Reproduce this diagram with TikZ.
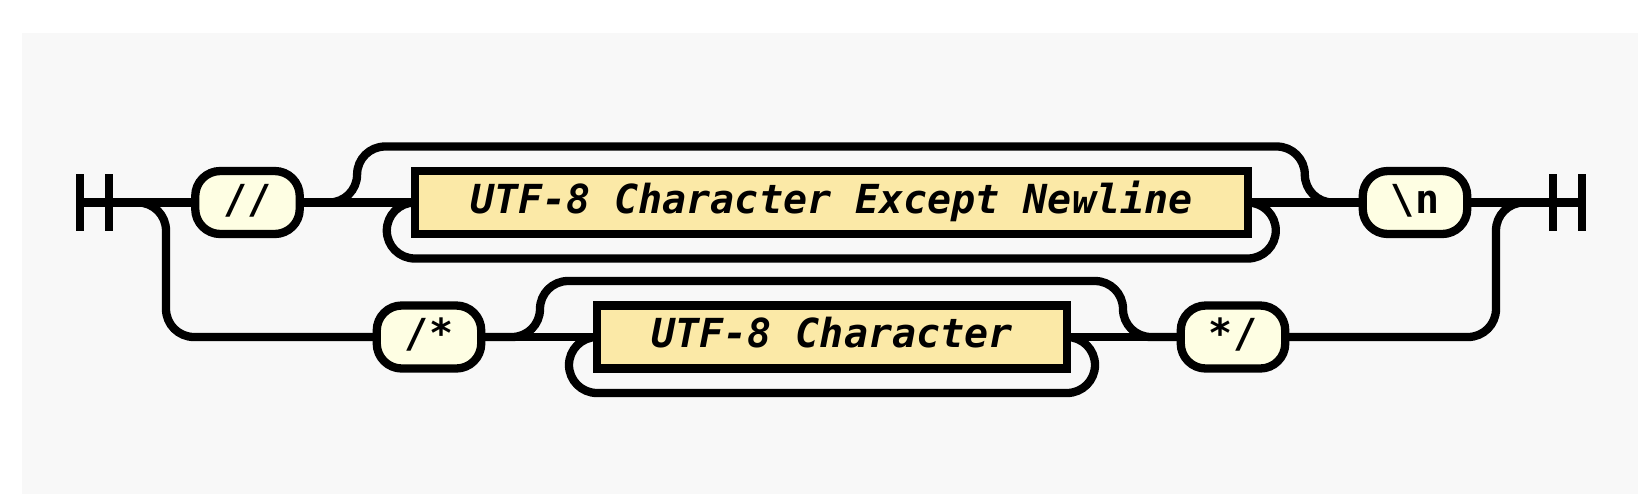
\documentclass[tikz,border=0pt]{standalone}
\usepackage{fontspec}
\newfontfamily\rrfont{DejaVu Sans Mono}
\usetikzlibrary{calc}
\definecolor{bgc}{HTML}{F8F8F8}
\definecolor{termfill}{HTML}{FEFEE3}
\definecolor{ntfill}{HTML}{FBE9A7}
\begin{document}
\begin{tikzpicture}[x=0.5pt,y=-0.5pt,
  rr/.style={line width=4.15pt, draw=black},
  term/.style={rr, fill=termfill, rounded corners=12.5pt, minimum width=52.25pt,
    minimum height=31.5pt, inner sep=0pt, outer sep=0pt, text height=10.5pt, text depth=0pt,
    font=\rrfont\bfseries\fontsize{20pt}{24pt}\selectfont},
  nonterm/.style={rr, fill=ntfill, minimum height=31.5pt, inner sep=0pt, outer sep=0pt,
    text height=10.5pt, text depth=0pt,
    font=\rrfont\bfseries\itshape\fontsize{20pt}{24pt}\selectfont},
  conn/.style={line width=4.15pt, rounded corners=14pt},
  bar/.style={line width=4.15pt}
]
\useasboundingbox (0,0) rectangle (1650,494);
\fill[white] (0,0) rectangle (1650,494);
\fill[bgc] (22,33) rectangle (1638,494);

% nodes
\node[term] (tslash) at (247.5,202.5) {//};
\node[nonterm, minimum width=416.5pt] (nline) at (831.3,202.5) {UTF-8 Character Except Newline};
\node[term] (tnl) at (1415,202.5) {\textbackslash n};
\node[term] (tstar) at (429,337) {/*};
\node[nonterm, minimum width=235pt] (nchar) at (832,337) {UTF-8 Character};
\node[term] (tend) at (1233,337) {*/};

\coordinate (startc) at (80,202.5);
\coordinate (endc) at (1582,202.5);
\coordinate (bl) at (166,202.5);
\coordinate (br) at (1496,202.5);

% start / end bars
\draw[bar] (80,174) -- (80,231);
\draw[bar] (109,174) -- (109,231);
\draw[bar] (1553,174) -- (1553,231);
\draw[bar] (1582,174) -- (1582,231);

% main line
\draw[conn] (startc) -- (tslash.west);
\draw[conn] (tslash.east) -- (nline.west);
\draw[conn] (nline.east) -- (tnl.west);
\draw[conn] (tnl.east) -- (endc);

% skip over upper nonterminal
\draw[conn] (tslash.east) -- ($(nline.west)+(-57.7,0)$) -- ++(0,-56)
  -- ($(nline.east)+(57,-56)$) -- ++(0,56) -- (tnl.west);
% repeat loop upper
\draw[conn] (nline.east) -- ++(28,0) -- ++(0,56) -- ($(nline.west)+(-28,56)$)
  -- ++(0,-56) -- (nline.west);

% lower branch
\draw[conn] ($(bl)+(-28,0)$) -- (bl) -- (bl |- tstar.west) -- (tstar.west);
\draw[conn] (tstar.east) -- (nchar.west);
\draw[conn] (nchar.east) -- (tend.west);
\draw[conn] (tend.east) -- (br |- tend.east) -- (br) -- ++(28,0);

% skip over lower nonterminal
\draw[conn] (tstar.east) -- ($(nchar.west)+(-57,0)$) -- ++(0,-56)
  -- ($(nchar.east)+(56,-56)$) -- ++(0,56) -- (tend.west);
% repeat loop lower
\draw[conn] (nchar.east) -- ++(28,0) -- ++(0,56) -- ($(nchar.west)+(-28,56)$)
  -- ++(0,-56) -- (nchar.west);
\end{tikzpicture}
\end{document}
